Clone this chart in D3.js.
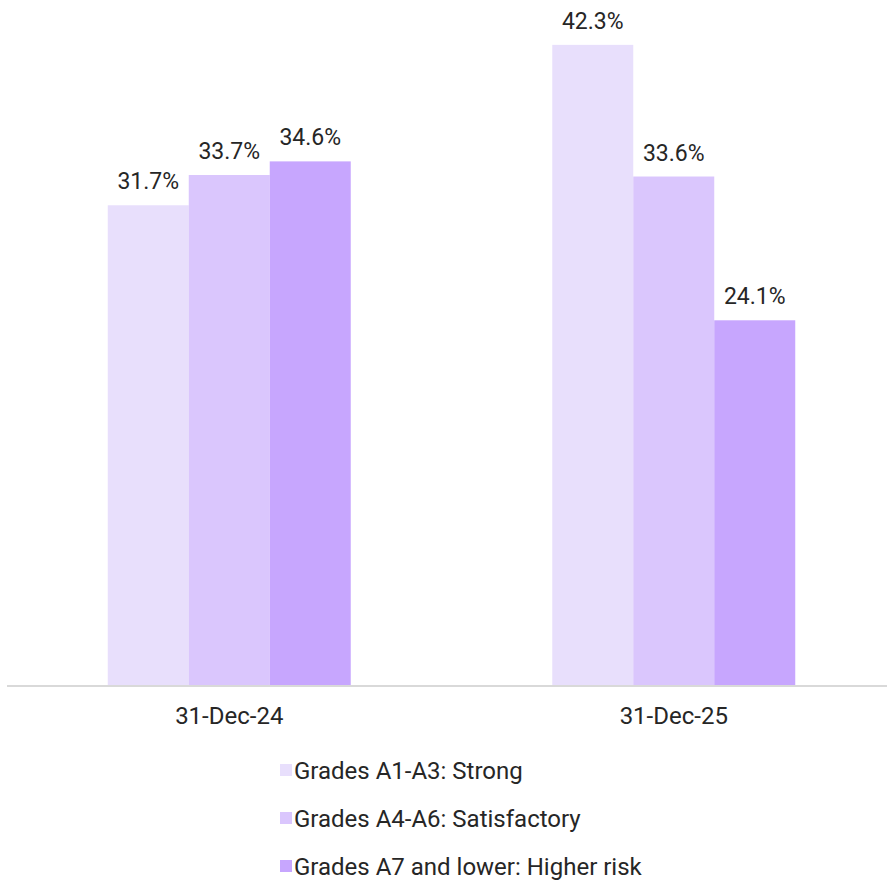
<!DOCTYPE html>
<html>
<head>
<meta charset="utf-8">
<script src="https://cdn.jsdelivr.net/npm/d3@7"></script>
<style>
  body { margin: 0; background: #fff; }
  text { font-family: Roboto, "Noto Sans", sans-serif; fill: #262626; }
</style>
</head>
<body>
<script>
const categories = ['31-Dec-24', '31-Dec-25'];
const seriesNames = ['Grades A1-A3: Strong', 'Grades A4-A6: Satisfactory', 'Grades A7 and lower: Higher risk'];
const strong = [31.7, 42.3];
const satisfactory = [33.7, 33.6];
const higherRisk = [34.6, 24.1];
const colors = ['#e8dffc', '#dac6fd', '#c7a6fe'];

const seriesValues = [strong, satisfactory, higherRisk];

const width = 887;
const height = 882;
const baseline = 685;

const svg = d3.select('body').append('svg')
  .attr('width', width)
  .attr('height', height);

const x0 = d3.scaleBand()
  .domain(categories)
  .range([7, 896]);

const x1 = d3.scaleBand()
  .domain(seriesNames)
  .range([0, x0.bandwidth()])
  .paddingOuter(1.244);

const y = d3.scaleLinear()
  .domain([0, 45])
  .range([baseline, 4]);

const color = d3.scaleOrdinal().domain(seriesNames).range(colors);

// flatten into bar records
const bars = [];
categories.forEach((c, i) => {
  seriesNames.forEach((s, j) => {
    bars.push({ cat: c, series: s, value: seriesValues[j][i] });
  });
});

const g = svg.append('g');

g.selectAll('rect.bar')
  .data(bars)
  .enter().append('rect')
  .attr('class', 'bar')
  .attr('x', d => x0(d.cat) + x1(d.series))
  .attr('y', d => y(d.value))
  .attr('width', x1.bandwidth())
  .attr('height', d => baseline - y(d.value))
  .attr('fill', d => color(d.series));

g.selectAll('text.val')
  .data(bars)
  .enter().append('text')
  .attr('class', 'val')
  .attr('x', d => x0(d.cat) + x1(d.series) + x1.bandwidth() / 2)
  .attr('y', d => y(d.value) - 16)
  .attr('text-anchor', 'middle')
  .style('font-size', '23px')
  .text(d => `${d.value.toFixed(1)}%`);

// x axis
const axis = svg.append('g')
  .attr('transform', `translate(0,${baseline + 1})`)
  .call(d3.axisBottom(x0).tickSize(0).tickPadding(21));
axis.select('.domain')
  .attr('d', `M7,0H887`)
  .attr('stroke', '#d9d9d9')
  .attr('stroke-width', 2);
axis.selectAll('.tick text')
  .style('font-size', '24px')
  .style('font-family', 'Roboto, sans-serif')
  .attr('fill', '#262626');

// legend
const legend = svg.append('g')
  .attr('transform', 'translate(280,770)');
const item = legend.selectAll('g')
  .data(seriesNames)
  .enter().append('g')
  .attr('transform', (d, i) => `translate(0,${i * 48})`);
item.append('rect')
  .attr('x', 0)
  .attr('y', -6)
  .attr('width', 12)
  .attr('height', 12)
  .attr('fill', d => color(d));
item.append('text')
  .attr('x', 14)
  .attr('y', 0)
  .attr('dy', '0.36em')
  .style('font-size', '24px')
  .text(d => d);
</script>
</body>
</html>
